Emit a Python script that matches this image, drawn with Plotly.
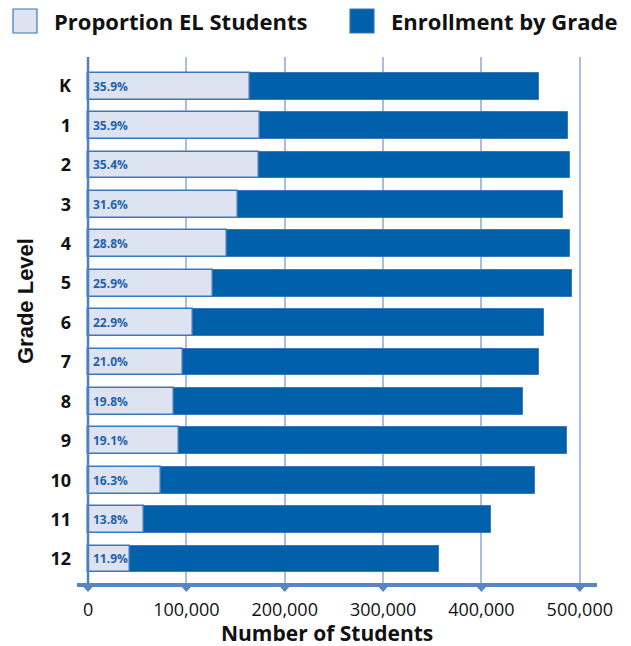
import plotly.graph_objects as go

grades = ["K", "1", "2", "3", "4", "5", "6", "7", "8", "9", "10", "11", "12"]
enrollment = [459000, 488000, 490500, 482500, 490000, 492000, 464000, 459000, 442600, 486500, 454500, 409500, 357000]
el_pct = [35.9, 35.9, 35.4, 31.6, 28.8, 25.9, 22.9, 21.0, 19.8, 19.1, 16.3, 13.8, 11.9]
x_ticks = [0, 100000, 200000, 300000, 400000, 500000]
x_tick_labels = ["0", "100,000", "200,000", "300,000", "400,000", "500,000"]

el_count = [e * p / 100 for e, p in zip(enrollment, el_pct)]

DARK = "#0061aa"
LIGHT = "#dde3f0"
EDGE = "#3d77bc"
GRID = "#a9bde1"
AXIS = "#5686c5"
LABEL = "#1f62ab"
FONT = "Open Sans"

L, R, T, B = 77, 34, 57, 61
PW, PH = 631 - L - R, 646 - T - B


def px(x):
    return (x - L) / PW


def py(y):
    return (646 - B - y) / PH


fig = go.Figure()
fig.add_trace(go.Bar(
    y=grades, x=enrollment, orientation="h", width=0.68,
    marker=dict(color=DARK, line=dict(color="#3b78be", width=1)),
    name="Enrollment by Grade", hoverinfo="skip"))
fig.add_trace(go.Bar(
    y=grades, x=el_count, orientation="h", width=0.68,
    marker=dict(color=LIGHT, line=dict(color=EDGE, width=1.5)),
    name="Proportion EL Students", hoverinfo="skip"))

annotations = []
for g, p in zip(grades, el_pct):
    annotations.append(dict(
        x=0, y=g, xref="x", yref="y", text=f"{p:.1f}%", showarrow=False,
        xanchor="left", xshift=3, yshift=0,
        font=dict(family=FONT, size=12, color=LABEL, weight="bold")))

# axis titles
annotations.append(dict(x=px(327), y=py(633), xref="paper", yref="paper", text="Number of Students",
                        showarrow=False, xanchor="center", yanchor="middle",
                        font=dict(family=FONT, size=21, color="#111", weight="bold")))
annotations.append(dict(x=px(25), y=py(301), xref="paper", yref="paper", text="Grade Level",
                        showarrow=False, textangle=-90, xanchor="center", yanchor="middle",
                        font=dict(family="Liberation Sans", size=22, color="#111", weight="bold")))

# custom legend
legend_items = [("Proportion EL Students", LIGHT, 13, 52), ("Enrollment by Grade", DARK, 350, 389)]
shapes = []
for text, col, x0, tx in legend_items:
    shapes.append(dict(type="rect", xref="paper", yref="paper",
                       x0=px(x0), x1=px(x0 + 24), y0=py(33), y1=py(9),
                       fillcolor=col, line=dict(color=EDGE, width=1.2)))
    annotations.append(dict(x=px(tx), y=py(21), xref="paper", yref="paper",
                            text=text, showarrow=False, xanchor="left", yanchor="middle",
                            font=dict(family=FONT, size=22, color="#111", weight="bold")))

# y axis line at x=0
shapes.append(dict(type="line", xref="x", yref="paper", x0=0, x1=0, y0=0, y1=1,
                   line=dict(color="#4f80c2", width=2.5), layer="above"))
# bottom axis line
shapes.append(dict(type="line", xref="paper", yref="paper", x0=0, x1=1, y0=0, y1=0,
                   line=dict(color=AXIS, width=4), layer="above"))
# tick triangles
for t in x_ticks:
    hw = 4.5 / 0.000982
    shapes.append(dict(type="path", xref="x", yref="paper",
                       path=f"M {t - hw},{-2/PH} L {t + hw},{-2/PH} L {t},{-7/PH} Z",
                       fillcolor=AXIS, line=dict(width=0), layer="above"))

fig.update_layout(
    width=631, height=646,
    margin=dict(l=L, r=R, t=T, b=B),
    paper_bgcolor="white", plot_bgcolor="white",
    barmode="overlay", showlegend=False, bargap=0,
    annotations=annotations, shapes=shapes,
    xaxis=dict(range=[-11200, 517500], tickvals=x_ticks, ticktext=x_tick_labels,
               showgrid=True, gridcolor=GRID, gridwidth=2, zeroline=False, showline=False,
               ticks="outside", ticklen=8, tickcolor="rgba(0,0,0,0)",
               tickfont=dict(family=FONT, size=18, color="#111")),
    yaxis=dict(range=[12.66, -0.74], showgrid=False, zeroline=False, showline=False,
               ticks="", tickfont=dict(family=FONT, size=18, color="#111", weight="bold"),
               ticklabelstandoff=5),
)

fig.write_html("out.html")
